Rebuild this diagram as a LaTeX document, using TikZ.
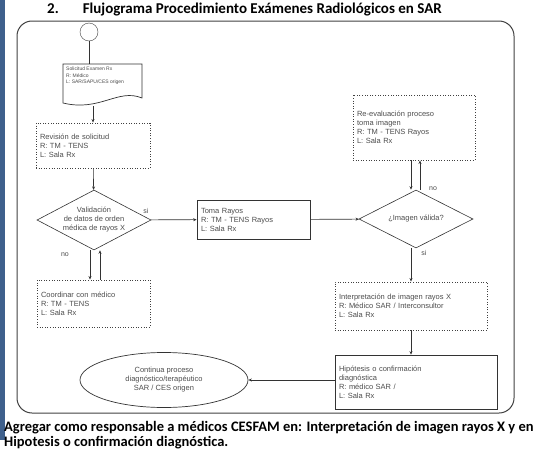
\documentclass[tikz,border=0pt]{standalone}
\usepackage{fontspec}
\setmainfont{Liberation Sans}
\newfontfamily\notefont{Carlito}
\usetikzlibrary{shapes.geometric,arrows.meta}
\definecolor{scanblue}{RGB}{62,96,140}

\begin{document}
\begin{tikzpicture}
        [%%%%%%%%%%%%%%%%%%%%%%%%%%%%%%
        x=1pt, y=-1pt,
        txt/.style={font=\fontsize{7.5}{9}\selectfont, text=black!70, align=left},
        dotbox/.style={txt, draw=black!75, line width=0.9pt, dash pattern=on 1pt off 1.6pt, inner sep=4pt},
        solbox/.style={txt, draw=black!80, line width=0.7pt, inner sep=4pt},
        decision/.style={txt, draw=black!80, line width=0.6pt, diamond, aspect=2, inner sep=0pt, align=center},
        arr/.style={draw=black!80, line width=0.6pt, -{Stealth[length=3.5pt,width=3pt]}},
        lbl/.style={font=\fontsize{7}{8}\selectfont, text=black!70},
        note/.style={font=\notefont\bfseries\fontsize{14.5}{16}\selectfont, anchor=base west, inner sep=0pt},
        ]%%%%%%%%%%%%%%%%%%%%%%%%%%%%%%
        \useasboundingbox (0,0) rectangle (541,455);
        % Scan edge and title
        \fill[scanblue] (0,0) rectangle (5,440);
        \node[note, font=\notefont\bfseries\fontsize{15}{17}\selectfont] (title) at (47,13)
          {2.\hspace{24pt}Flujograma Procedimiento Exámenes Radiológicos en SAR};
        % Frame
        \draw[black!75, line width=1pt, rounded corners=15pt] (17,21) rectangle (514,413);
        % Start and request
        \node[draw=black!75, circle, minimum size=18pt, inner sep=0pt] (start) at (89,32) {};
        \node[txt, font=\fontsize{5}{6.5}\selectfont, anchor=north west, inner sep=0pt] (doc) at (66,67)
          {Solicitud Examen Rx\\R: Médico\\L: SAR/SAPU/CES origen};
        \draw[black!80, line width=0.7pt] (63,64) -- (142,64) -- (142,98)
          .. controls (118,88) and (100,112) .. (63,103) -- cycle;
        \coordinate (docbot) at (93,106);
        \draw[black!80, line width=0.6pt] (start) -- (start |- 0,64);
        % Left column
        \node[dotbox, text width=106pt, minimum height=45pt] (rev) at (93,145.5)
          {Revisión de solicitud\\R: TM - TENS\\L: Sala Rx};
        \node[decision, minimum width=114pt, minimum height=60pt] (val) at (94,220)
          {Validación\\de datos de orden\\médica de rayos X};
        \node[dotbox, text width=105pt, minimum height=47pt] (coord) at (93.5,303.5)
          {Coordinar con médico\\R: TM - TENS\\L: Sala Rx};
        % Middle
        \node[solbox, text width=105pt, minimum height=39pt] (toma) at (253.5,219.5)
          {Toma Rayos\\R: TM - TENS Rayos\\L: Sala Rx};
        % Right column
        \node[dotbox, text width=114pt, minimum height=65pt] (reev) at (414,127.5)
          {Re-evaluación proceso\\toma imagen\\R: TM - TENS Rayos\\L: Sala Rx};
        \node[decision, minimum width=114pt, minimum height=58pt] (img) at (416,219)
          {¿Imagen válida?};
        \node[dotbox, text width=144pt, minimum height=48pt] (interp) at (411,306)
          {Interpretación de imagen rayos X\\R: Médico SAR / Interconsultor\\L: Sala Rx};
        \node[solbox, text width=154pt, minimum height=54pt] (hip) at (416,382)
          {Hipótesis o confirmación\\diagnóstica\\R: médico SAR /\\L: Sala Rx};
        \node[txt, draw=black!80, line width=0.7pt, ellipse, align=center, minimum width=168pt,
          minimum height=55pt, inner sep=0pt] (fin) at (164,380)
          {Continua proceso\\diagnóstico/terapéutico\\SAR / CES origen};
        % Connectors
        \draw[arr] (docbot) -- (rev.north);
        \draw[arr] (rev) -- (val);
        \draw[arr] (val) -- (toma);
        \draw[arr] ([xshift=-4pt]val.south) -- ([xshift=-4pt]val.south |- coord.north);
        \draw[arr] ([xshift=6pt]val.south |- coord.north) -- ([xshift=6pt]val.south);
        \draw[arr] (toma) -- (img);
        \draw[arr] ([xshift=-5pt]img.north |- reev.south) -- ([xshift=-5pt]img.north);
        \draw[arr] ([xshift=4pt]img.north) -- ([xshift=4pt]img.north |- reev.south);
        \draw[arr] (img.south -| interp.north) -- (interp.north);
        \draw[arr] (interp.south) -- (interp.south |- hip.north);
        \draw[arr] (hip.west |- fin.east) -- (fin.east);
        % Labels
        \node[lbl] (valsi) at (146,211) {si};
        \node[lbl] (valno) at (65,255) {no};
        \node[lbl] (imgno) at (433,189) {no};
        \node[lbl] (imgsi) at (424,253) {si};
        % Note below
        \node[note] (note1) at (4,431)
          {Agregar como responsable a médicos CESFAM en: Interpretación de imagen rayos X y en};
        \node[note] (note2) at (4,446) {Hipotesis o confirmación diagnóstica.};
\end{tikzpicture}
\end{document}
